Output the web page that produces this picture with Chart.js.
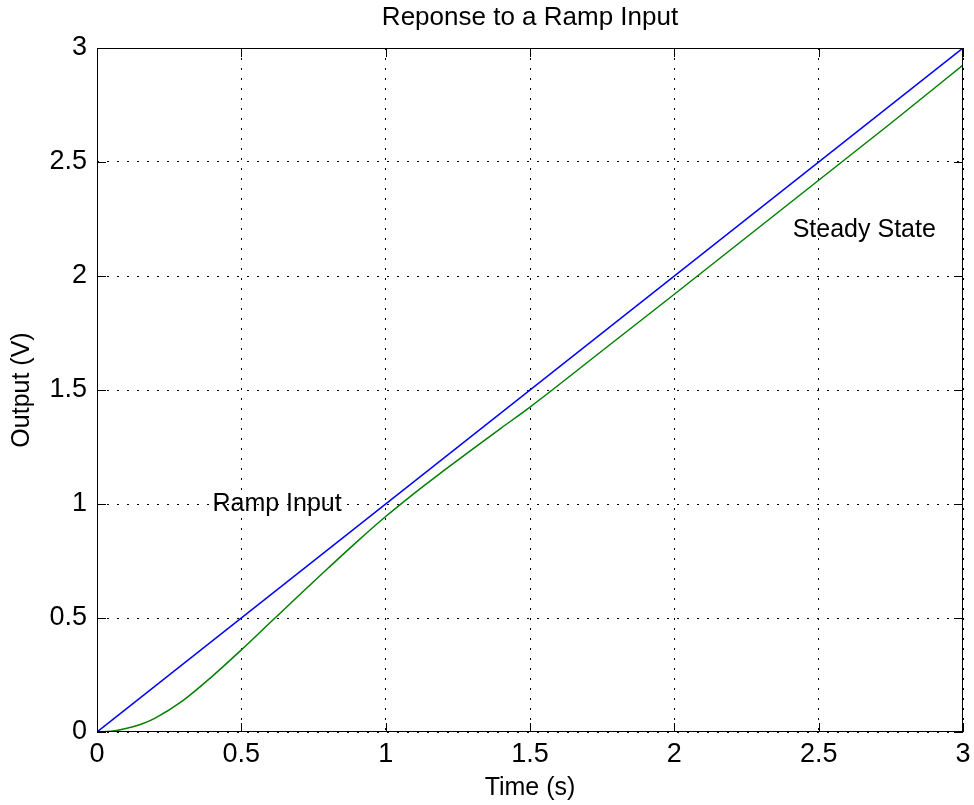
<!DOCTYPE html>
<html>
<head>
<meta charset="utf-8">
<script src="https://cdn.jsdelivr.net/npm/chart.js@4.4.1/dist/chart.umd.min.js"></script>
<style>
  html, body { margin: 0; padding: 0; background: #fff; }
  #grafico { display: block; }
</style>
</head>
<body>
<canvas id="grafico" width="974" height="805"></canvas>
<script>
// rampa de entrada (azul)
var tempoRampa = [0, 3];
var valoresRampa = [0, 3];

// resposta do sistema (verde)
var tempoResposta = [0, 0.05, 0.1, 0.15, 0.2, 0.3, 0.4, 0.5, 0.6, 0.7, 0.8, 0.9, 1.0,
	1.1, 1.2, 1.3, 1.4, 1.5, 1.75, 2.0, 2.25, 2.5, 2.75, 3.0];
var valoresResposta = [0, 0.003, 0.015, 0.033, 0.06, 0.14, 0.245, 0.36, 0.48, 0.6, 0.718, 0.834, 0.945,
	1.048, 1.145, 1.24, 1.333, 1.425, 1.672, 1.92, 2.17, 2.42, 2.67, 2.925];

var ticksX = [0, 0.5, 1, 1.5, 2, 2.5, 3];
var ticksY = [0, 0.5, 1, 1.5, 2, 2.5, 3];

var titulo = 'Reponse to a Ramp Input';

var anotacoes = [
	{ texto: 'Ramp Input', x: 0.40, y: 1.0 },
	{ texto: 'Steady State', x: 2.41, y: 2.2 }
];

var fonte = "'Liberation Sans', Arial, Helvetica, sans-serif";

var pontos = function(xs, ys){
	var lista = [];
	for (i = 0; i < xs.length; i++) {
		lista.push({ x: xs[i], y: ys[i] });
	}
	return lista;
};

var formatarTick = function(v){
	return String(Math.round(v * 10) / 10);
};

// titulo, caixa em volta, ticks para dentro e textos
var pluginMoldura = {
	id: 'moldura',
	afterDatasetsDraw: function(chart){
		var ctx = chart.ctx;
		var a = chart.chartArea;
		var sx = chart.scales.x;
		var sy = chart.scales.y;
		ctx.save();
		ctx.strokeStyle = '#000';
		ctx.lineWidth = 1;
		ctx.strokeRect(a.left + 0.5, a.top + 0.5, a.right - a.left - 1, a.bottom - a.top - 1);

		ctx.beginPath();
		for (i = 0; i < ticksX.length; i++) {
			var px = Math.round(sx.getPixelForValue(ticksX[i])) + 0.5;
			ctx.moveTo(px, a.bottom); ctx.lineTo(px, a.bottom - 9);
			ctx.moveTo(px, a.top); ctx.lineTo(px, a.top + 9);
		}
		for (i = 0; i < ticksY.length; i++) {
			var py = Math.round(sy.getPixelForValue(ticksY[i])) + 0.5;
			ctx.moveTo(a.left, py); ctx.lineTo(a.left + 9, py);
			ctx.moveTo(a.right, py); ctx.lineTo(a.right - 9, py);
		}
		ctx.stroke();

		ctx.fillStyle = '#000';
		ctx.textBaseline = 'middle';

		ctx.font = '26px ' + fonte;
		ctx.textAlign = 'center';
		ctx.fillText(titulo, (a.left + a.right) / 2, 18);

		ctx.font = '25px ' + fonte;
		ctx.textAlign = 'left';
		for (i = 0; i < anotacoes.length; i++) {
			var n = anotacoes[i];
			ctx.fillText(n.texto, sx.getPixelForValue(n.x), sy.getPixelForValue(n.y));
		}
		ctx.restore();
	}
};

var grafico = new Chart(document.getElementById('grafico'), {
	type: 'line',
	data: {
		datasets: [{
			label: 'Ramp Input',
			data: pontos(tempoRampa, valoresRampa),
			borderColor: '#0000ff',
			borderWidth: 1.5,
			pointRadius: 0,
			tension: 0,
			fill: false
		}, {
			label: 'Response',
			data: pontos(tempoResposta, valoresResposta),
			borderColor: '#008000',
			borderWidth: 1.5,
			pointRadius: 0,
			cubicInterpolationMode: 'monotone',
			fill: false
		}]
	},
	options: {
		responsive: false,
		animation: false,
		layout: { padding: { top: 48, right: 11, bottom: 0, left: 0 } },
		plugins: {
			legend: { display: false },
			tooltip: { enabled: false },
			title: { display: false }
		},
		scales: {
			x: {
				type: 'linear',
				min: 0,
				max: 3,
				afterFit: function(s){ s.height = 73; s.paddingLeft = 0; s.paddingRight = 0; },
				afterBuildTicks: function(s){ s.ticks = ticksX.map(function(v){ return { value: v }; }); },
				ticks: { color: '#000', padding: 6, maxRotation: 0, font: { family: fonte, size: 27 }, callback: formatarTick },
				grid: { color: '#000', lineWidth: 1, drawTicks: false },
				border: { display: false, dash: [2, 8] },
				title: {
					display: true,
					text: 'Time (s)',
					color: '#000',
					font: { family: fonte, size: 25 },
					padding: { top: 0, bottom: 2 }
				}
			},
			y: {
				type: 'linear',
				min: 0,
				max: 3,
				afterFit: function(s){ s.width = 97; s.paddingTop = 0; s.paddingBottom = 0; },
				afterBuildTicks: function(s){ s.ticks = ticksY.map(function(v){ return { value: v }; }); },
				ticks: { color: '#000', padding: 10, font: { family: fonte, size: 27 }, callback: formatarTick },
				grid: { color: '#000', lineWidth: 1, drawTicks: false },
				border: { display: false, dash: [2, 8] },
				title: {
					display: true,
					text: 'Output (V)',
					color: '#000',
					font: { family: fonte, size: 25 },
					padding: { top: 7, bottom: 0 }
				}
			}
		}
	},
	plugins: [pluginMoldura]
});
</script>
</body>
</html>
